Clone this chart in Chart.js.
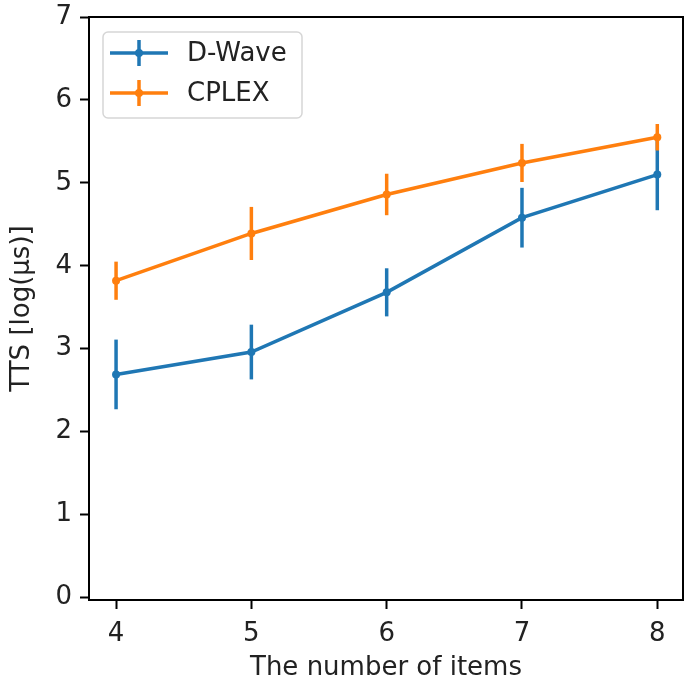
<!DOCTYPE html>
<html>
<head>
<meta charset="utf-8">
<script src="https://cdn.jsdelivr.net/npm/chart.js@4.4.0/dist/chart.umd.min.js"></script>
<style>
  html, body { margin: 0; padding: 0; background: #fff; }
  canvas { display: block; }
</style>
</head>
<body>
<canvas id="tts-chart" width="684" height="681"></canvas>
<script>
const items = [4, 5, 6, 7, 8];
const yTicks = [0, 1, 2, 3, 4, 5, 6, 7];

const dwaveTTS = [2.69, 2.96, 3.68, 4.58, 5.10];
const dwaveErr = [0.42, 0.33, 0.29, 0.36, 0.43];
const cplexTTS = [3.82, 4.39, 4.86, 5.24, 5.55];
const cplexErr = [0.23, 0.32, 0.25, 0.23, 0.16];

const BLUE = '#1f77b4';
const ORANGE = '#ff7f0e';
const FONT = "'DejaVu Sans', sans-serif";

function toPoints(ys) {
  return items.map((x, i) => ({ x: x, y: ys[i] }));
}

// vertical error bars, drawn through the chart's own scales
const errorBars = {
  id: 'errorBars',
  afterDatasetDraw(chart, args) {
    const ds = chart.data.datasets[args.index];
    if (!ds.errors) return;
    const { ctx, scales } = chart;
    ctx.save();
    ctx.strokeStyle = ds.borderColor;
    ctx.lineWidth = 3.5;
    ds.data.forEach((p, i) => {
      const px = scales.x.getPixelForValue(p.x);
      ctx.beginPath();
      ctx.moveTo(px, scales.y.getPixelForValue(p.y - ds.errors[i]));
      ctx.lineTo(px, scales.y.getPixelForValue(p.y + ds.errors[i]));
      ctx.stroke();
    });
    ctx.restore();
  }
};

// full box around the plot, like matplotlib spines
const frame = {
  id: 'frame',
  afterDraw(chart) {
    const { ctx, chartArea: a } = chart;
    ctx.save();
    ctx.strokeStyle = '#000';
    ctx.lineWidth = 2;
    ctx.strokeRect(a.left, a.top, a.right - a.left, a.bottom - a.top);
    ctx.restore();
  }
};

// matplotlib-style legend with errorbar handles
const mplLegend = {
  id: 'mplLegend',
  afterDraw(chart) {
    const { ctx } = chart;
    ctx.save();
    ctx.beginPath();
    ctx.roundRect(103, 32, 199, 86, 5);
    ctx.fillStyle = 'rgba(255,255,255,0.8)';
    ctx.fill();
    ctx.strokeStyle = '#d6d6d6';
    ctx.lineWidth = 1.5;
    ctx.stroke();
    const rows = [53, 93];
    chart.data.datasets.forEach((ds, i) => {
      const y = rows[i];
      ctx.strokeStyle = ds.borderColor;
      ctx.lineWidth = 3.5;
      ctx.beginPath();
      ctx.moveTo(110, y); ctx.lineTo(168, y);
      ctx.moveTo(139, y - 13); ctx.lineTo(139, y + 13);
      ctx.stroke();
      ctx.fillStyle = ds.borderColor;
      ctx.beginPath();
      ctx.arc(139, y, 4, 0, Math.PI * 2);
      ctx.fill();
      ctx.fillStyle = '#222';
      ctx.font = '26px ' + FONT;
      ctx.textBaseline = 'middle';
      ctx.fillText(ds.label, 187, y + 1);
    });
    ctx.restore();
  }
};

const tickGrid = {
  drawOnChartArea: false,
  drawTicks: true,
  tickLength: 9,
  tickWidth: 2,
  color: '#000'
};

new Chart(document.getElementById('tts-chart'), {
  type: 'line',
  data: {
    datasets: [
      {
        label: 'D-Wave',
        data: toPoints(dwaveTTS),
        errors: dwaveErr,
        borderColor: BLUE,
        backgroundColor: BLUE,
        borderWidth: 3.5,
        pointRadius: 4,
        pointBorderWidth: 0,
        pointBackgroundColor: BLUE,
        tension: 0,
        order: 2
      },
      {
        label: 'CPLEX',
        data: toPoints(cplexTTS),
        errors: cplexErr,
        borderColor: ORANGE,
        backgroundColor: ORANGE,
        borderWidth: 3.5,
        pointRadius: 4,
        pointBorderWidth: 0,
        pointBackgroundColor: ORANGE,
        tension: 0,
        order: 1
      }
    ]
  },
  options: {
    responsive: false,
    animation: false,
    layout: { autoPadding: false, padding: { top: 17, right: 1, left: 0, bottom: 0 } },
    plugins: {
      legend: { display: false },
      tooltip: { enabled: false }
    },
    scales: {
      x: {
        type: 'linear',
        min: 3.8,
        max: 8.19,
        afterBuildTicks: (scale) => { scale.ticks = items.map(v => ({ value: v })); },
        afterFit: (scale) => {
          scale.height = 81;
          scale.paddingLeft = 0;
          scale.paddingRight = 0;
        },
        grid: tickGrid,
        border: { display: false },
        ticks: {
          color: '#222',
          font: { family: FONT, size: 26 },
          padding: 10,
          maxRotation: 0
        },
        title: {
          display: true,
          text: 'The number of items',
          color: '#222',
          font: { family: FONT, size: 26, lineHeight: 1 },
          padding: { top: 1, bottom: 0 }
        }
      },
      y: {
        type: 'linear',
        min: -0.03,
        max: 7,
        afterBuildTicks: (scale) => { scale.ticks = yTicks.map(v => ({ value: v })); },
        afterFit: (scale) => {
          scale.width = 89;
          scale.paddingTop = 0;
          scale.paddingBottom = 0;
        },
        grid: tickGrid,
        border: { display: false },
        ticks: {
          color: '#222',
          font: { family: FONT, size: 26 },
          padding: 8
        },
        title: {
          display: true,
          text: 'TTS [log(µs)]',
          color: '#222',
          font: { family: FONT, size: 26, lineHeight: 1 },
          padding: { top: 9, bottom: 0 }
        }
      }
    }
  },
  plugins: [errorBars, frame, mplLegend]
});
</script>
</body>
</html>
